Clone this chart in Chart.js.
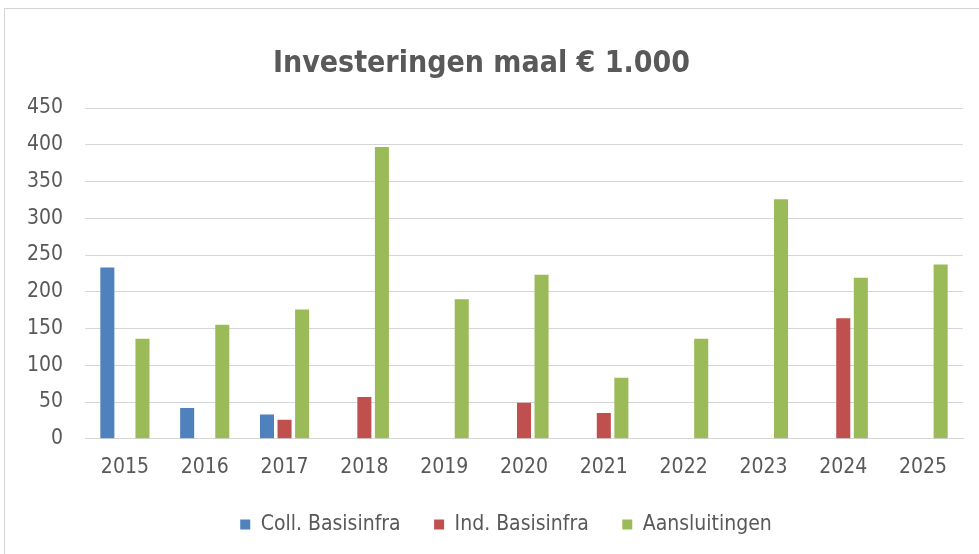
<!DOCTYPE html>
<html>
<head>
<meta charset="utf-8">
<script src="https://cdn.jsdelivr.net/npm/chart.js@4.4.1/dist/chart.umd.min.js"></script>
<style>
  html, body { margin: 0; padding: 0; background: #fff; overflow: hidden; }
  #wrap { position: absolute; left: 0; top: 0; width: 979px; height: 554px; }
  #frame { position: absolute; left: 4px; top: 8px; width: 990px; height: 560px; border: 1px solid #d4d4d4; pointer-events: none; }
</style>
</head>
<body>
<div id="wrap"><canvas id="c" width="979" height="554"></canvas></div>
<div id="frame"></div>
<script>
const titleText = 'Investeringen maal € 1.000';
const years = ['2015','2016','2017','2018','2019','2020','2021','2022','2023','2024','2025'];
const collBasisinfra = [233, 42, 33, null, null, null, null, null, null, null, null];
const indBasisinfra  = [null, null, 26, 57, null, 49, 35, null, null, 164, null];
const aansluitingen  = [136, 155, 176, 397, 190, 223, 83, 136, 326, 219, 237];
const seriesNames = ['Coll. Basisinfra', 'Ind. Basisinfra', 'Aansluitingen'];
const seriesColors = ['#4F81BD', '#C0504D', '#9BBB59'];

const FONT = "'Liberation Sans Narrow', 'DejaVu Sans Condensed', 'Roboto', sans-serif";
const TXT = '#595959';

const defaultLabels = Chart.defaults.plugins.legend.labels.generateLabels;

const ctx = document.getElementById('c');
new Chart(ctx, {
  type: 'bar',
  data: {
    labels: years,
    datasets: [collBasisinfra, indBasisinfra, aansluitingen].map((d, i) => ({
      label: seriesNames[i],
      data: d,
      backgroundColor: seriesColors[i],
      borderWidth: 0,
      categoryPercentage: 0.66,
      barPercentage: 0.8
    }))
  },
  options: {
    responsive: false,
    animation: false,
    layout: { padding: { left: 0, right: 16, top: 0, bottom: 9 } },
    plugins: {
      title: {
        display: true,
        text: titleText,
        color: TXT,
        font: { family: FONT, size: 30, weight: 'bold' },
        padding: { top: 46, bottom: 26 }
      },
      legend: {
        position: 'bottom',
        fullSize: false,
        labels: {
          color: TXT,
          font: { family: FONT, size: 21 },
          boxWidth: 10,
          boxHeight: 10,
          padding: 18,
          generateLabels: (chart) => {
            const items = defaultLabels(chart);
            items.forEach((it, i) => {
              it.lineWidth = 0;
              it.text += (i < items.length - 1) ? '\u2002 ' : '      ';
            });
            return items;
          }
        }
      },
      tooltip: { enabled: false }
    },
    scales: {
      x: {
        grid: { display: false, drawTicks: false },
        border: { display: true, color: '#d6d6d6', width: 1 },
        ticks: { color: TXT, font: { family: FONT, size: 21 }, padding: 16, maxRotation: 0 }
      },
      y: {
        min: 0, max: 450,
        afterFit: (s) => { s.width = 85; },
        grid: { color: '#d6d6d6', lineWidth: 1, drawTicks: false },
        border: { display: false },
        ticks: { stepSize: 50, color: TXT, font: { family: FONT, size: 21 }, padding: 22 }
      }
    }
  }
});
</script>
</body>
</html>
